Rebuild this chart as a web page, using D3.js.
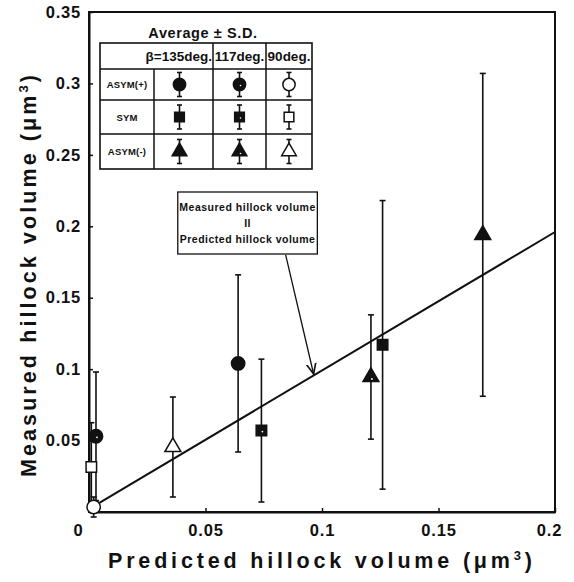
<!DOCTYPE html>
<html><head><meta charset="utf-8">
<script src="https://cdn.jsdelivr.net/npm/d3@7"></script>
<style>
body{margin:0;background:#fff;}
svg text{font-family:"Liberation Sans",Arial,sans-serif;font-weight:bold;fill:#111;}
</style></head>
<body><svg id="c" width="574" height="582"></svg>
<script>
// ---- data ----
const angles = ["β=135deg.", "117deg.", "90deg."];
const types = ["ASYM(+)", "SYM", "ASYM(-)"];
// per point: type index, angle index
const ptType  = [0, 0, 0, 1, 1, 1, 2, 2, 2];
const ptAngle = [0, 1, 2, 0, 1, 2, 0, 1, 2];
const predicted = [0.064, 0.003, 0.002, 0.126, 0.074, 0.001, 0.169, 0.121, 0.036];
const measured  = [0.104, 0.053, 0.0035, 0.117, 0.057, 0.0315, 0.194, 0.0945, 0.0455];
const sd        = [0.062, 0.045, 0.007, 0.101, 0.050, 0.031, 0.113, 0.0435, 0.035];
const xTicks = [0, 0.05, 0.1, 0.15, 0.2];
const yTicks = [0.05, 0.1, 0.15, 0.2, 0.25, 0.3, 0.35];
const lineX = [0.003, 0.2];
const lineY = [0.005, 0.196];
const noteLines = ["Measured hillock volume", "II", "Predicted hillock volume"];
const noteBoxX = [0.0381, 0.098], noteBoxY = [0.1806, 0.224];
const arrowX = [0.0844, 0.0964], arrowY = [0.180, 0.0966];

const svg = d3.select("#c");
const x = d3.scaleLinear().domain([0, 0.2]).range([89, 555]);
const y = d3.scaleLinear().domain([0, 0.35]).range([512, 12]);

// frame
svg.append("rect").attr("x", x(0)).attr("y", y(0.35))
  .attr("width", x(0.2) - x(0)).attr("height", y(0) - y(0.35))
  .attr("fill", "none").attr("stroke", "#111").attr("stroke-width", 2);

// axes
const gy = svg.append("g").attr("transform", `translate(${x(0)},0)`)
  .call(d3.axisLeft(y).tickValues(yTicks).tickSizeInner(-4).tickSizeOuter(0)
    .tickFormat(d => d3.format("")(+d.toFixed(2))).tickPadding(8));
const gx = svg.append("g").attr("transform", `translate(0,${y(0)})`)
  .call(d3.axisBottom(x).tickValues(xTicks).tickSizeInner(-4).tickSizeOuter(0)
    .tickFormat(d => d3.format("")(+d.toFixed(2))).tickPadding(12));
[gx, gy].forEach(g => {
  g.select(".domain").attr("stroke", "#111").attr("stroke-width", 2);
  g.selectAll(".tick line").attr("stroke", "#111").attr("stroke-width", 1.5);
  g.selectAll(".tick text").style("font-size", "16.5px").style("letter-spacing", "0.8px")
    .style("font-family", "Liberation Sans, Arial, sans-serif").style("font-weight", "bold").attr("fill", "#111");
});
gx.selectAll(".tick text").attr("dx", (d) => d === 0 ? -11 : (d === 0.2 ? -6 : 0));

// axis titles
const xt = svg.append("text").attr("x", 320).attr("y", 568).attr("text-anchor", "middle")
  .style("font-size", "21.5px").attr("textLength", 424).attr("lengthAdjust", "spacing");
xt.append("tspan").text("Predicted hillock volume (μm");
xt.append("tspan").text("3").attr("dy", -8).style("font-size", "13px");
xt.append("tspan").text(")").attr("dy", 8);
const yt = svg.append("text").attr("transform", "translate(36,276) rotate(-90)").attr("text-anchor", "middle")
  .style("font-size", "21.5px").attr("textLength", 402).attr("lengthAdjust", "spacing");
yt.append("tspan").text("Measured hillock volume (μm");
yt.append("tspan").text("3").attr("dy", -8).style("font-size", "13px");
yt.append("tspan").text(")").attr("dy", 8);

// identity line
svg.append("line").attr("x1", x(lineX[0])).attr("y1", y(lineY[0]))
  .attr("x2", x(lineX[1])).attr("y2", y(lineY[1])).attr("stroke", "#111").attr("stroke-width", 2);

// markers
const shapes = [d3.symbolCircle, d3.symbolSquare, d3.symbolTriangle];
const sizes = [140, 110, 110];
function marker(g, t, a, scale) {
  g.append("path").attr("d", d3.symbol().type(shapes[t]).size(sizes[t] * scale)())
    .attr("fill", a === 2 ? "#fff" : "#111").attr("stroke", "#111").attr("stroke-width", 1.5);
  if (a === 1) { // 117deg marker shows a small white speck
    g.append("circle").attr("r", 0.9 * Math.sqrt(scale)).attr("cx", 1).attr("cy", t === 2 ? 2 : 1).attr("fill", "#fff");
  }
}
function errbar(g, x1, ytop, ybot, cap) {
  g.append("line").attr("x1", x1).attr("x2", x1).attr("y1", ytop).attr("y2", ybot).attr("stroke", "#111").attr("stroke-width", 1.6);
  [ytop, ybot].forEach(v => g.append("line").attr("x1", x1 - cap).attr("x2", x1 + cap).attr("y1", v).attr("y2", v)
    .attr("stroke", "#111").attr("stroke-width", 1.6));
}
const pts = svg.append("g");
predicted.forEach((p, i) => {
  errbar(pts, x(p), y(measured[i] + sd[i]), y(measured[i] - sd[i]), 3);
});
predicted.forEach((p, i) => {
  const g = pts.append("g").attr("transform", `translate(${x(p)},${y(measured[i])})`);
  marker(g, ptType[i], ptAngle[i], 1);
});

// note box + arrow
svg.append("rect").attr("x", x(noteBoxX[0])).attr("y", y(noteBoxY[1]))
  .attr("width", x(noteBoxX[1]) - x(noteBoxX[0])).attr("height", y(noteBoxY[0]) - y(noteBoxY[1]))
  .attr("fill", "#fff").attr("stroke", "#111").attr("stroke-width", 1.3);
const ncx = (x(noteBoxX[0]) + x(noteBoxX[1])) / 2;
noteLines.forEach((t, i) => {
  svg.append("text").attr("x", ncx).attr("y", y(noteBoxY[1]) + 19 + i * 16).attr("text-anchor", "middle")
    .style("font-size", "10.5px").style("letter-spacing", "0.5px").text(t);
});
svg.append("defs").append("marker").attr("id", "ah").attr("viewBox", "0 0 10 10").attr("refX", 9).attr("refY", 5)
  .attr("markerWidth", 9).attr("markerHeight", 9).attr("orient", "auto")
  .append("path").attr("d", "M0,1 L9,5 L0,9").attr("fill", "none").attr("stroke", "#111").attr("stroke-width", 1.4);
svg.append("line").attr("x1", x(arrowX[0])).attr("y1", y(arrowY[0])).attr("x2", x(arrowX[1])).attr("y2", y(arrowY[1]))
  .attr("stroke", "#111").attr("stroke-width", 1.3).attr("marker-end", "url(#ah)");

// legend table
const L = svg.append("g");
L.append("text").attr("x", 203).attr("y", 38).attr("text-anchor", "middle").style("font-size", "14.5px")
  .style("letter-spacing", "0.6px").text("Average ± S.D.");
const colX = [100, 154, 213, 266, 312];
const rowY = [43, 69, 100, 134, 169];
L.append("rect").attr("x", colX[0]).attr("y", rowY[0]).attr("width", colX[4] - colX[0]).attr("height", rowY[4] - rowY[0])
  .attr("fill", "#fff").attr("stroke", "#111").attr("stroke-width", 1.6);
rowY.slice(1, 4).forEach(v => L.append("line").attr("x1", colX[0]).attr("x2", colX[4]).attr("y1", v).attr("y2", v).attr("stroke", "#111").attr("stroke-width", 1.5));
colX.slice(1, 4).forEach((v, j) => L.append("line").attr("x1", v).attr("x2", v).attr("y1", j === 0 ? rowY[1] : rowY[0]).attr("y2", rowY[4]).attr("stroke", "#111").attr("stroke-width", 1.5));
// header
L.append("text").attr("x", colX[2] - 1).attr("y", 61).attr("text-anchor", "end").style("font-size", "13.5px").text(angles[0]);
L.append("text").attr("x", (colX[2] + colX[3]) / 2).attr("y", 61).attr("text-anchor", "middle").style("font-size", "13.5px").text(angles[1]);
L.append("text").attr("x", (colX[3] + colX[4]) / 2).attr("y", 61).attr("text-anchor", "middle").style("font-size", "13.5px").text(angles[2]);
types.forEach((t, r) => {
  const cy = (rowY[r + 1] + rowY[r + 2]) / 2;
  L.append("text").attr("x", (colX[0] + colX[1]) / 2).attr("y", cy + 3.5).attr("text-anchor", "middle")
    .style("font-size", "9.5px").style("letter-spacing", "0.2px").text(t);
  angles.forEach((a, c) => {
    const cx = (colX[c + 1] + colX[c + 2]) / 2 - (c === 0 ? 4 : 0);
    errbar(L, cx, cy - 12, cy + 12, 2.5);
    const g = L.append("g").attr("transform", `translate(${cx},${cy})`);
    marker(g, r, c, 0.85);
  });
});
</script></body></html>
